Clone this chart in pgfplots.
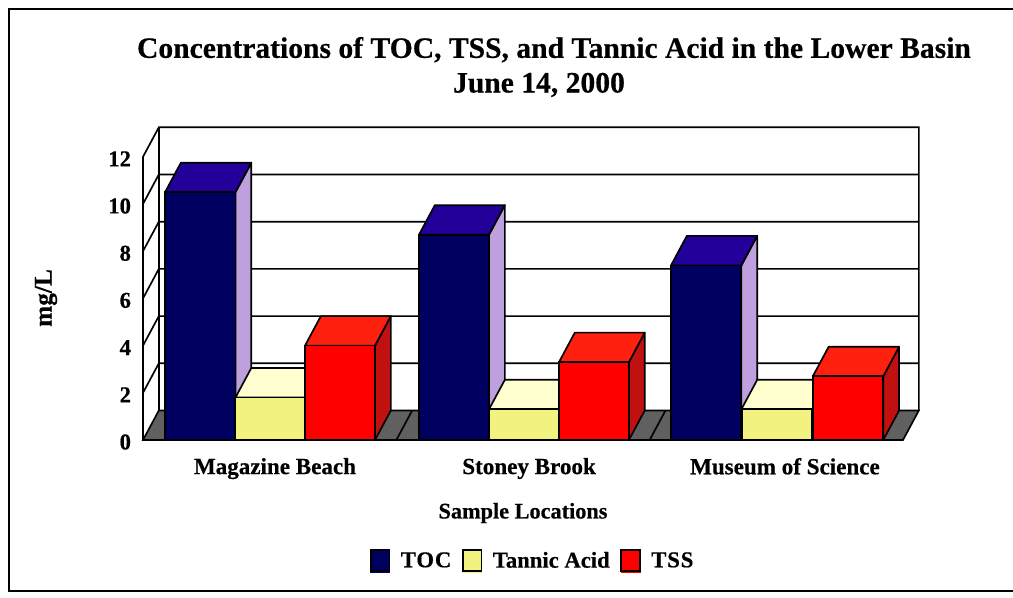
\documentclass[border=0pt]{standalone}
\usepackage{pgfplots}
\pgfplotsset{compat=1.18}
\usepackage{fontspec}
\setmainfont{Liberation Serif}[BoldFeatures={FakeBold=0.5}]
\definecolor{tocF}{RGB}{0,0,96}
\definecolor{tocT}{RGB}{34,0,153}
\definecolor{tocS}{RGB}{189,160,221}
\definecolor{tanF}{RGB}{242,242,128}
\definecolor{tanT}{RGB}{255,255,208}
\definecolor{tssF}{RGB}{255,0,0}
\definecolor{tssT}{RGB}{255,32,16}
\definecolor{tssS}{RGB}{192,16,16}
\definecolor{floorc}{RGB}{96,96,96}
\newcommand{\dx}{0.0625}
\newcommand{\dy}{1.25}
\newcommand{\lw}{1.25pt}
% x0, x1, value, top colour, side colour
\newcommand{\faces}[5]{%
  \addplot[forget plot,draw=black,fill=#5,line width=\lw,line join=round] coordinates {(#2,0)(#2+\dx,\dy)(#2+\dx,#3+\dy)(#2,#3)} -- cycle;
  \addplot[forget plot,draw=black,fill=#4,line width=\lw,line join=round] coordinates {(#1,#3)(#2,#3)(#2+\dx,#3+\dy)(#1+\dx,#3+\dy)} -- cycle;
}
\begin{document}
\begin{tikzpicture}[x=0.75pt,y=0.75pt]
\path[use as bounding box] (0,0) rectangle (1013,597);
\draw[line width=1.4pt] (1013,588) -- (9,588) -- (9,6) -- (1013,6);
\begin{axis}[
  at={(107.25pt,117.75pt)},anchor=south west,
  scale only axis,width=582pt,height=234.75pt,
  xmin=0,xmax=3.0632,ymin=0,ymax=13.263,
  clip=false,
  xtick={0.521,1.524,2.534},
  xticklabels={Magazine Beach,Stoney Brook,Museum of Science},
  ytick={0,2,4,6,8,10,12},
  tick style={draw=none},
  axis line style={draw=none},
  axis x line*=bottom, axis y line*=left,
  x tick label style={font=\fontsize{17.3}{20}\selectfont\bfseries,yshift=-10pt},
  y tick label style={font=\fontsize{17}{20}\selectfont\bfseries,xshift=-5.5pt,yshift=-1.5pt},
  /pgf/number format/assume math mode=true,
  title={Concentrations of TOC, TSS, and Tannic Acid in the Lower Basin\\June 14, 2000\hspace*{22.5pt}},
  title style={at={(axis description cs:0.5296,1.166)},anchor=center,align=center,font=\fontsize{22.2}{26}\selectfont\bfseries},
  xlabel={Sample Locations},
  xlabel style={at={(axis description cs:0.4897,-0.2335)},anchor=center,font=\fontsize{16.7}{20}\selectfont\bfseries},
  ylabel={mg/L},
  ylabel style={at={(axis description cs:-0.125,0.4537)},anchor=center,font=\fontsize{19}{20}\selectfont\bfseries},
  legend columns=-1,
  legend style={at={(axis description cs:0.5026,-0.3866)},anchor=center,draw=none,fill=none,font=\fontsize{17}{18}\selectfont\bfseries,/tikz/every even column/.append style={column sep=6pt}},
  legend image code/.code={\fill[#1,draw=none] (0,-9pt) rectangle (15pt,8pt);\draw[draw=black,line width=\lw,fill=none] (0.5pt,-7.5pt) rectangle (14.5pt,8pt);\path[draw=none,fill=none] (0,0) -- (21pt,0);},
]
% floor
\addplot[forget plot,draw=black,fill=floorc,line width=\lw] coordinates {(0,0)(3,0)(3+\dx,\dy)(\dx,\dy)} -- cycle;
% walls and grid
\addplot[forget plot,black,line width=\lw] coordinates {(0,0)(0,12)(\dx,12+\dy)(3+\dx,12+\dy)(3+\dx,\dy)};
\addplot[forget plot,black,line width=\lw] coordinates {(\dx,\dy)(\dx,12+\dy)};
\addplot[forget plot,black,line width=\lw] coordinates {(0,2)(\dx,2+\dy)(3+\dx,2+\dy)};
\addplot[forget plot,black,line width=\lw] coordinates {(0,4)(\dx,4+\dy)(3+\dx,4+\dy)};
\addplot[forget plot,black,line width=\lw] coordinates {(0,6)(\dx,6+\dy)(3+\dx,6+\dy)};
\addplot[forget plot,black,line width=\lw] coordinates {(0,8)(\dx,8+\dy)(3+\dx,8+\dy)};
\addplot[forget plot,black,line width=\lw] coordinates {(0,10)(\dx,10+\dy)(3+\dx,10+\dy)};
\addplot[forget plot,black,line width=\lw] coordinates {(1,0)(1+\dx,\dy)};
\addplot[forget plot,black,line width=\lw] coordinates {(2,0)(2+\dx,\dy)};
% TOC
\faces{0.087}{0.365}{10.5}{tocT}{tocS}
\faces{1.0895}{1.3658}{8.7}{tocT}{tocS}
\faces{2.0842}{2.362}{7.4}{tocT}{tocS}
\addplot[ybar,bar width=0.2776,bar shift=0,draw=black,fill=tocF,line width=\lw] coordinates {(0.226,10.5)(1.2277,8.7)(2.223,7.4)};
\addlegendentry{\addfontfeature{LetterSpace=4}TOC}
% Tannic
\faces{0.365}{0.6395}{1.8}{tanT}{tocS}
\faces{1.3658}{1.642}{1.3}{tanT}{tocS}
\faces{2.362}{2.644}{1.3}{tanT}{tocS}
\addplot[ybar,bar width=0.2776,bar shift=0,draw=black,fill=tanF,line width=\lw] coordinates {(0.5025,1.8)(1.504,1.3)(2.503,1.3)};
\addlegendentry{Tannic Acid}
% TSS
\faces{0.6395}{0.9158}{4.0}{tssT}{tssS}
\faces{1.642}{1.918}{3.3}{tssT}{tssS}
\faces{2.644}{2.922}{2.7}{tssT}{tssS}
\addplot[ybar,bar width=0.2776,bar shift=0,draw=black,fill=tssF,line width=\lw] coordinates {(0.7777,4.0)(1.78,3.3)(2.783,2.7)};
\addlegendentry{\addfontfeature{LetterSpace=4}TSS}
\end{axis}
\end{tikzpicture}
\end{document}
